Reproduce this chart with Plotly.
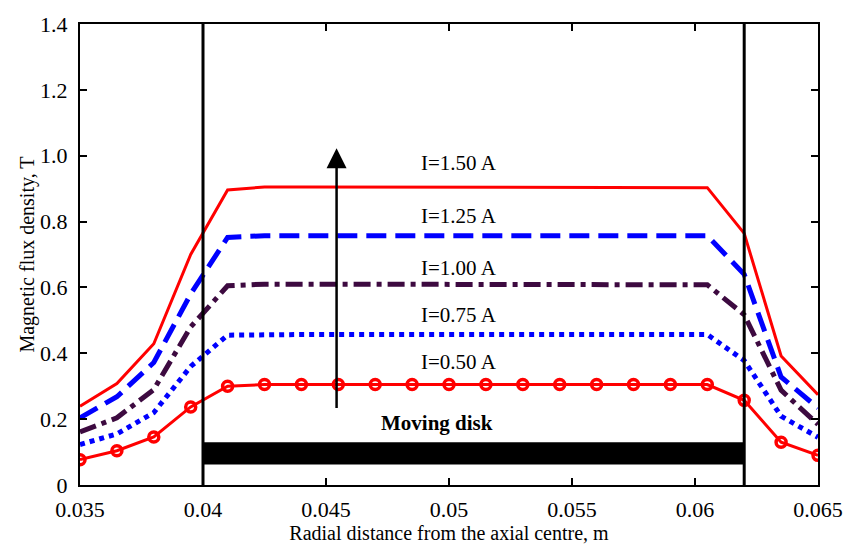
import plotly.graph_objects as go

x = [0.035, 0.0365, 0.038, 0.0395, 0.041, 0.0425, 0.044, 0.0455, 0.047, 0.0485, 0.050,
     0.0515, 0.053, 0.0545, 0.056, 0.0575, 0.059, 0.0605, 0.062, 0.0635, 0.065]

i050 = [0.077, 0.104, 0.146, 0.237, 0.300, 0.305, 0.305, 0.305, 0.305, 0.305, 0.305,
        0.305, 0.305, 0.305, 0.305, 0.305, 0.305, 0.305, 0.257, 0.130, 0.090]
i075 = [0.123, 0.155, 0.220, 0.360, 0.455, 0.457, 0.457, 0.457, 0.457, 0.457, 0.457,
        0.457, 0.457, 0.457, 0.457, 0.457, 0.457, 0.457, 0.378, 0.209, 0.145]
i100 = [0.161, 0.204, 0.290, 0.480, 0.605, 0.610, 0.610, 0.610, 0.610, 0.610, 0.610,
        0.610, 0.610, 0.610, 0.610, 0.610, 0.610, 0.608, 0.517, 0.288, 0.184]
i125 = [0.204, 0.268, 0.372, 0.580, 0.752, 0.757, 0.757, 0.757, 0.757, 0.757, 0.757,
        0.757, 0.757, 0.757, 0.757, 0.757, 0.757, 0.757, 0.640, 0.328, 0.234]
i150 = [0.239, 0.308, 0.429, 0.700, 0.896, 0.905, 0.905, 0.905, 0.905, 0.905, 0.905,
        0.905, 0.905, 0.905, 0.905, 0.905, 0.905, 0.903, 0.764, 0.392, 0.274]

labels = ["I=1.50 A", "I=1.25 A", "I=1.00 A", "I=0.75 A", "I=0.50 A"]
label_y = [0.978, 0.817, 0.660, 0.517, 0.375]
label_x = 0.0504

disk_x = [0.040, 0.062]
disk_y = [0.062, 0.130]
wall_x = [0.040, 0.062]
arrow_x = 0.04543
arrow_y = [0.229, 1.023]

xticks = [0.035, 0.04, 0.045, 0.05, 0.055, 0.06, 0.065]
xticktext = ["0.035", "0.04", "0.045", "0.05", "0.055", "0.06", "0.065"]
yticks = [0, 0.2, 0.4, 0.6, 0.8, 1.0, 1.2, 1.4]
yticktext = ["0", "0.2", "0.4", "0.6", "0.8", "1.0", "1.2", "1.4"]

FONT = "Liberation Serif"

fig = go.Figure()

# moving disk bar
fig.add_shape(type="rect", xref="x", yref="y", x0=disk_x[0], x1=disk_x[1],
              y0=disk_y[0], y1=disk_y[1], fillcolor="black", line=dict(width=0), layer="below")
# walls
for wx in wall_x:
    fig.add_shape(type="line", xref="x", yref="y", x0=wx, x1=wx, y0=0, y1=1.4,
                  line=dict(color="black", width=3), layer="above")

fig.add_trace(go.Scatter(x=x, y=i150, mode="lines", line=dict(color="#ff0000", width=3),
                         showlegend=False))
fig.add_trace(go.Scatter(x=x, y=i125, mode="lines",
                         line=dict(color="#0000ff", width=5, dash="20px,9px"), showlegend=False))
fig.add_trace(go.Scatter(x=x, y=i100, mode="lines",
                         line=dict(color="#3d0a40", width=5, dash="17px,6px,5px,6px"),
                         showlegend=False))
fig.add_trace(go.Scatter(x=x, y=i075, mode="lines",
                         line=dict(color="#0000ff", width=5, dash="5px,5px"), showlegend=False))
fig.add_trace(go.Scatter(x=x, y=i050, mode="lines+markers",
                         line=dict(color="#ff0000", width=3),
                         marker=dict(symbol="circle-open", size=10, color="#ff0000",
                                     line=dict(width=3.5, color="#ff0000")),
                         showlegend=False))

for t, yy in zip(labels, label_y):
    fig.add_annotation(x=label_x, y=yy, text=t, showarrow=False,
                       font=dict(family=FONT, size=21, color="black"))

fig.add_annotation(x=0.0495, y=0.187, text="<b>Moving disk</b>", showarrow=False,
                   font=dict(family=FONT, size=21, color="black"))

fig.add_annotation(x=arrow_x, y=arrow_y[1], ax=arrow_x, ay=arrow_y[0],
                   xref="x", yref="y", axref="x", ayref="y", text="",
                   showarrow=True, arrowhead=2, arrowsize=1.6, arrowwidth=2.5,
                   arrowcolor="black")

axis_common = dict(showline=True, linecolor="black", linewidth=2, mirror="ticks",
                   ticks="inside", ticklen=7, tickwidth=1.5, tickcolor="black",
                   showgrid=False, zeroline=False,
                   tickfont=dict(family=FONT, size=22, color="black"))

fig.update_xaxes(range=[0.035, 0.065], tickvals=xticks, ticktext=xticktext,
                 ticklabelstandoff=4,
                 title=dict(text="Radial distance from the axial centre, m",
                            font=dict(family=FONT, size=20, color="black"), standoff=2),
                 **axis_common)
fig.update_yaxes(range=[0, 1.4], tickvals=yticks, ticktext=yticktext, ticklabelstandoff=6,
                 title=dict(text="Magnetic flux density, T",
                            font=dict(family=FONT, size=20, color="black"), standoff=0),
                 **axis_common)

fig.update_layout(width=855, height=550, margin=dict(l=80, r=27, t=16, b=63),
                  plot_bgcolor="white", paper_bgcolor="white")

fig.write_html("out.html")
